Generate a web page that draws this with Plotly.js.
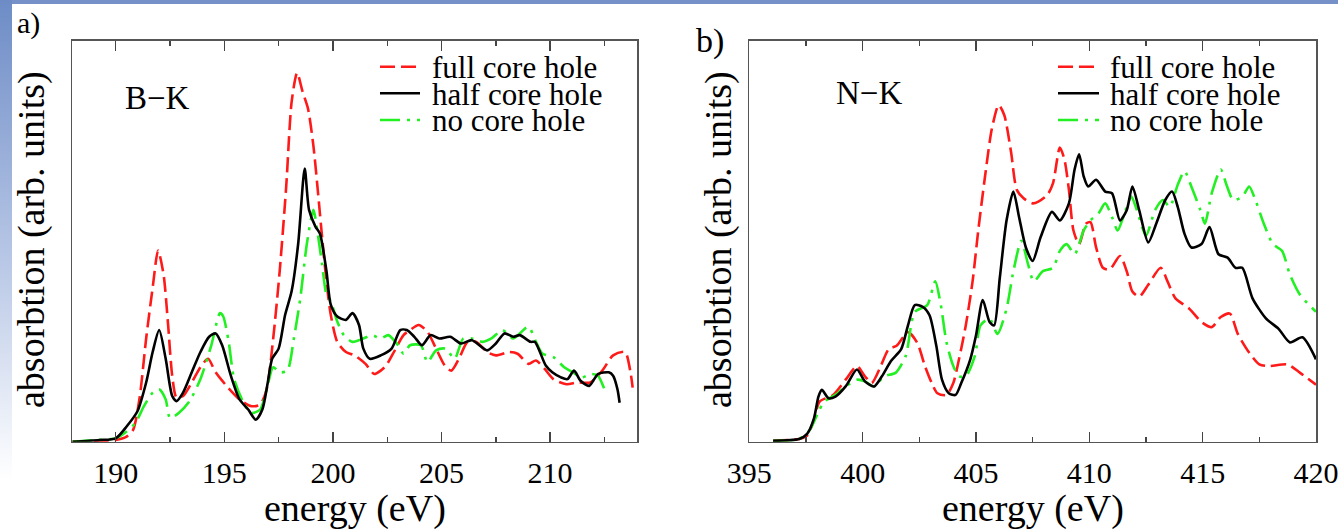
<!DOCTYPE html>
<html>
<head>
<meta charset="utf-8">
<script src="https://cdn.plot.ly/plotly-3.0.1.min.js"></script>
<style>
  body { margin:0; width:1338px; height:530px; position:relative; background:#ffffff; overflow:hidden; }
  #bgtop { position:absolute; left:0; top:0; width:1338px; height:4px; background:#7591c8; }
  #bgleft { position:absolute; left:0; top:0; width:12px; height:480px; background:linear-gradient(#6d8cc6, #b9c8e6 55%, #ffffff); }
  #plot { position:absolute; left:0; top:0; width:1338px; height:530px; }
</style>
</head>
<body>
<div id="bgtop"></div>
<div id="bgleft"></div>
<div id="plot"></div>
<script>
// ---------- Panel a) B-K edge ----------
const bkFullE = [188.0,190,190.5,190.8,191.1,191.4,191.7,191.95,192.2,192.4,192.6,192.8,193.1,193.5,193.9,194.25,194.6,195.1,195.7,196.25,196.65,196.95,197.25,197.55,197.85,198.1,198.35,198.6,198.85,199.1,199.3,199.5,199.7,199.9,200.2,200.6,201.0,201.5,201.9,202.2,202.45,202.85,203.25,203.55,203.95,204.35,204.75,205.15,205.45,205.8,206.2,206.6,207.1,207.5,208.1,208.5,209.0,209.35,209.75,210.15,210.75,211.25,211.85,212.4,212.9,213.45,213.7,213.8];
const bkFull  = [0,0.5,1.5,3.5,13,30.5,45.5,56.5,49.5,35.5,19.5,13,13.5,17.5,22,24.5,20.5,16.5,12.5,10.5,11,15.5,30.5,50.5,75.5,100.5,109,103.5,98.5,87.5,74.5,60.5,47.5,37.5,29.5,26.5,25.5,23,20,21,22.5,27,31.5,33,34.5,32.5,27.5,22.5,21,24.5,29.5,29.5,26.5,25.5,26.5,26,23,24,21.5,18.5,17,17.5,17.5,21,25.5,26.5,20.5,16];

const bkHalfE = [188.0,189.25,190,190.5,191,191.4,191.7,192.0,192.3,192.6,192.8,193.1,193.5,193.9,194.3,194.6,194.9,195.3,195.7,196.1,196.45,196.75,197.0,197.2,197.5,197.8,198.1,198.4,198.7,198.9,199.2,199.4,199.7,199.9,200.2,200.6,200.9,201.2,201.4,201.7,202.2,202.7,203.1,203.4,203.75,204.1,204.5,204.9,205.4,205.9,206.4,207.1,207.5,207.9,208.3,208.6,209.1,209.3,209.8,210.1,210.5,210.8,211.1,211.4,211.8,212.2,212.7,212.9,213.1,213.2];
const bkHalf  = [0,0.5,1.0,4.5,9.0,17.5,26.5,33.0,24.5,13.5,12.0,14.5,20.5,26.5,31.0,32.0,28.5,19.5,12.5,9.5,6.5,9.5,17.5,24.5,27.5,37.5,44.5,58.5,80.7,68.5,63.5,61.5,50.5,40.5,37.0,36.0,38.0,34.5,27.5,24.5,25.5,27.5,33.0,33.0,31.0,28.5,31.5,30.5,31.0,29.0,30.0,27.0,29.0,32.0,31.0,31.5,29.5,29.5,22.5,20.5,19.0,18.5,21.0,18.0,16.5,20.0,20.5,19.5,15.5,11.5];

const bkNoE = [188.0,189.15,190,190.5,190.9,191.3,191.7,192.0,192.3,192.5,192.9,193.4,193.9,194.4,194.8,194.95,195.2,195.45,195.85,196.25,196.65,196.95,197.25,197.55,197.9,198.2,198.5,198.8,199.1,199.3,199.5,199.7,199.9,200.2,200.5,200.9,201.4,201.8,202.2,202.55,203.0,203.25,203.55,204.05,204.35,204.75,205.2,205.6,206.0,206.4,206.9,207.3,207.8,208.3,208.6,209.0,209.35,209.65,210.15,210.65,211.05,211.45,211.9,212.2,212.5];
const bkNo  = [0,0.5,1,3,5.5,10.5,14.5,15.5,12.5,7,8.5,12,18.5,28.5,38,37,29.5,18.5,12,8.5,9.5,15.5,22,20.5,21,30.5,42.5,58.5,68.5,61.5,52.5,43.5,41.5,35.5,31.5,29.5,30.5,31.5,30.5,31.5,28.5,26,28.5,28.5,23.5,27,27.5,24.5,30.5,30.5,29.5,30.5,33,30.5,32,34,29.5,26,25,22,20.5,19,20,19.5,15.5];

// ---------- Panel b) N-K edge ----------
const nkFullE = [396.05,397.2,397.55,397.85,398.1,398.7,399.25,399.75,400.1,400.4,400.8,401.15,401.5,402.0,402.4,402.75,403.05,403.3,403.7,404.0,404.25,404.55,404.85,405.1,405.4,405.7,406.0,406.25,406.55,406.8,407.1,407.5,407.75,408.15,408.4,408.7,408.9,409.1,409.3,409.55,409.85,410.05,410.3,410.6,410.9,411.35,411.65,411.9,412.2,412.6,413.15,413.45,413.8,414.4,414.95,415.4,415.8,416.2,416.55,417.05,417.5,417.95,418.75,419.3,420.0];
const nkFull  = [0.3,0.8,1.8,6.3,11.8,13.8,18.3,22.3,19.3,17.3,22.3,27.3,28.3,32.3,29.3,22.3,17.3,14.3,13.8,17.3,24.3,34.3,47.3,62.3,78.3,92.3,99.3,96.3,85.3,74.3,71.8,70.3,70.8,72.8,76.3,86.8,83.3,74.3,62.3,58.3,64.3,64.8,57.3,51.3,50.8,54.8,50.3,44.3,42.8,46.3,51.3,47.3,42.3,39.3,35.3,33.8,36.8,37.8,31.8,26.3,22.8,22.3,22.8,20.3,16.8];

const nkHalfE = [396.05,397.2,397.55,397.85,398.05,398.2,398.5,398.8,399.25,399.75,400.1,400.5,400.85,401.25,401.7,402.0,402.3,402.65,402.95,403.25,403.5,403.8,404.1,404.35,404.75,405.0,405.3,405.6,405.8,406.05,406.35,406.65,406.9,407.2,407.5,407.85,408.35,408.7,409.1,409.35,409.55,409.75,409.95,410.3,410.7,411.0,411.35,411.65,411.9,412.2,412.6,412.95,413.35,413.65,413.9,414.2,414.5,414.95,415.3,415.7,416.1,416.45,416.75,417.2,417.8,418.35,418.85,419.4,420.0];
const nkHalf  = [0.3,0.8,2.3,6.8,13.3,15.3,12.8,13.3,16.3,21.3,17.8,16.3,19.3,23.8,27.3,34.3,40.3,39.8,37.3,28.3,18.3,14.3,13.8,17.3,24.3,31.3,41.8,35.3,34.3,48.3,65.3,73.8,66.3,57.3,53.3,60.3,67.8,65.3,70.3,80.3,84.8,78.3,75.3,77.3,73.8,73.3,65.3,68.3,75.3,68.3,58.8,64.3,71.3,73.8,69.3,61.3,57.3,58.3,63.3,55.3,54.3,51.3,51.3,42.3,36.3,33.3,29.3,30.8,24.3];

const nkNoE = [396.05,397.2,397.65,398.05,398.3,398.8,399.25,399.75,400.1,400.5,400.95,401.45,401.9,402.3,402.85,403.2,403.45,403.7,404.0,404.25,404.55,404.95,405.2,405.6,405.95,406.35,406.65,407.0,407.3,407.55,407.95,408.4,408.7,409.0,409.35,409.75,410.05,410.4,410.7,411.0,411.25,411.55,411.85,412.1,412.5,412.9,413.25,413.55,413.9,414.2,414.5,414.9,415.1,415.4,415.8,416.05,416.35,416.75,417.05,417.3,417.7,418.1,418.5,418.85,419.3,420.0];
const nkNo  = [0.3,0.8,3.3,8.8,11.8,13.8,16.3,18.3,17.8,16.3,19.3,20.3,25.3,38.3,40.3,47.3,40.3,29.3,22.3,19.3,19.3,25.3,34.3,36.3,31.8,39.3,50.3,59.3,52.3,47.3,50.3,51.3,56.3,58.3,55.3,62.3,65.3,67.3,70.3,66.3,62.3,67.3,72.3,68.3,60.8,68.3,71.3,69.3,75.8,79.8,75.3,68.3,64.3,73.3,80.3,75.8,71.3,72.3,75.3,71.8,64.3,58.3,56.3,49.3,43.3,38.3];

const seriesNames = ['full core hole','half core hole','no core hole'];
const tickLabelsA = [190,195,200,205,210];
const tickLabelsB = [395,400,405,410,415,420];

const FONT = '"Liberation Serif", "Times New Roman", Times, serif';
const RED = '#ff1a1a', BLACK = '#000000', GREEN = '#22f022';
const dashFull = '15px,6px';
const dashNo = '20px,7px,3px,7px';
const LW = 2.6;

function tr(x, y, xa, ya, color, dash, name) {
  return { x: x, y: y, xaxis: xa, yaxis: ya, type: 'scatter', mode: 'lines', name: name,
           showlegend: false, line: { color: color, width: LW, dash: dash, shape: 'spline', smoothing: 0.7 } };
}

const data = [
  tr(bkFullE, bkFull, 'x', 'y', RED, dashFull, seriesNames[0]),
  tr(bkNoE, bkNo, 'x', 'y', GREEN, dashNo, seriesNames[2]),
  tr(bkHalfE, bkHalf, 'x', 'y', BLACK, 'solid', seriesNames[1]),
  tr(nkFullE, nkFull, 'x2', 'y2', RED, dashFull, seriesNames[0]),
  tr(nkNoE, nkNo, 'x2', 'y2', GREEN, dashNo, seriesNames[2]),
  tr(nkHalfE, nkHalf, 'x2', 'y2', BLACK, 'solid', seriesNames[1])
];

const W = 1338, H = 530;
const px = v => v / W;
const py = v => 1 - v / H;

function xax(domain, range, ticks, anchor) {
  return {
    domain: domain, range: range, anchor: anchor,
    tickmode: 'array', tickvals: ticks, ticktext: ticks.map(String),
    ticks: 'inside', ticklen: 10, tickwidth: 1.4, tickcolor: '#444',
    minor: { dtick: 2.5, tick0: 0, ticks: 'inside', ticklen: 5, tickwidth: 1.4, tickcolor: '#444' },
    showline: true, linecolor: '#555', linewidth: 1.6, mirror: 'ticks',
    showgrid: false, zeroline: false, ticklabeloverflow: 'allow',
    tickfont: { family: FONT, size: 30, color: '#000' }, ticklabelstandoff: 4
  };
}
function yax(range, anchor) {
  return {
    domain: [py(441.7), py(40.7)], range: range, anchor: anchor,
    showline: true, linecolor: '#555', linewidth: 1.6, mirror: true,
    ticks: '', showticklabels: false, showgrid: false, zeroline: false
  };
}

const ann = [];
function txt(x, y, t, size, xanchor) {
  ann.push({ xref: 'paper', yref: 'paper', x: px(x), y: py(y), text: t, showarrow: false,
             xanchor: xanchor || 'center', yanchor: 'middle', font: { family: FONT, size: size, color: '#000' } });
}
txt(15, 23, 'a)', 30, 'left');
txt(694, 41, 'b)', 34, 'left');
txt(157, 98, 'B\u2212K', 33);
txt(869, 93, 'N\u2212K', 33);
txt(355, 508, 'energy (eV)', 38);
txt(1033, 508, 'energy (eV)', 38);
ann.push({ xref:'paper', yref:'paper', x: px(31), y: py(240), text: 'absorbtion (arb. units)', textangle: -90,
           showarrow:false, xanchor:'center', yanchor:'middle', font:{family:FONT, size:38, color:'#000'} });
ann.push({ xref:'paper', yref:'paper', x: px(718), y: py(240), text: 'absorbtion (arb. units)', textangle: -90,
           showarrow:false, xanchor:'center', yanchor:'middle', font:{family:FONT, size:38, color:'#000'} });

const shapes = [];
const legColors = [RED, BLACK, GREEN];
const legDash = [dashFull, 'solid', dashNo];
const rowsY = [66.7, 93.3, 120];
function legend(x0, x1, tx) {
  for (let i = 0; i < 3; i++) {
    shapes.push({ type: 'line', xref: 'paper', yref: 'paper', x0: px(x0), x1: px(x1), y0: py(rowsY[i]), y1: py(rowsY[i]),
                  line: { color: legColors[i], width: LW, dash: legDash[i] } });
  }
  // one text block; line pitch from the small base size, glyphs enlarged by span style
  ann.push({ xref: 'paper', yref: 'paper', x: px(tx), y: py(rowsY[1] + 1), showarrow: false,
             xanchor: 'left', yanchor: 'middle', align: 'left',
             text: seriesNames.map(s => '<span style="font-size:31px">' + s + '</span>').join('<br>'),
             font: { family: FONT, size: 20.5, color: '#000' } });
}
legend(380, 420, 430);
legend(1058, 1099, 1108);

const layout = {
  width: W, height: H,
  margin: { l: 0, r: 0, t: 0, b: 0 },
  paper_bgcolor: 'rgba(0,0,0,0)', plot_bgcolor: '#ffffff',
  showlegend: false,
  xaxis: xax([px(72.3), px(637)], [188, 214], tickLabelsA, 'y'),
  yaxis: yax([0, 118.5], 'x'),
  xaxis2: xax([px(749.3), px(1316)], [395, 420], tickLabelsB, 'y2'),
  yaxis2: yax([0, 118.3], 'x2'),
  annotations: ann,
  shapes: shapes
};

Plotly.newPlot('plot', data, layout, { staticPlot: true, displayModeBar: false });
</script>
</body>
</html>
